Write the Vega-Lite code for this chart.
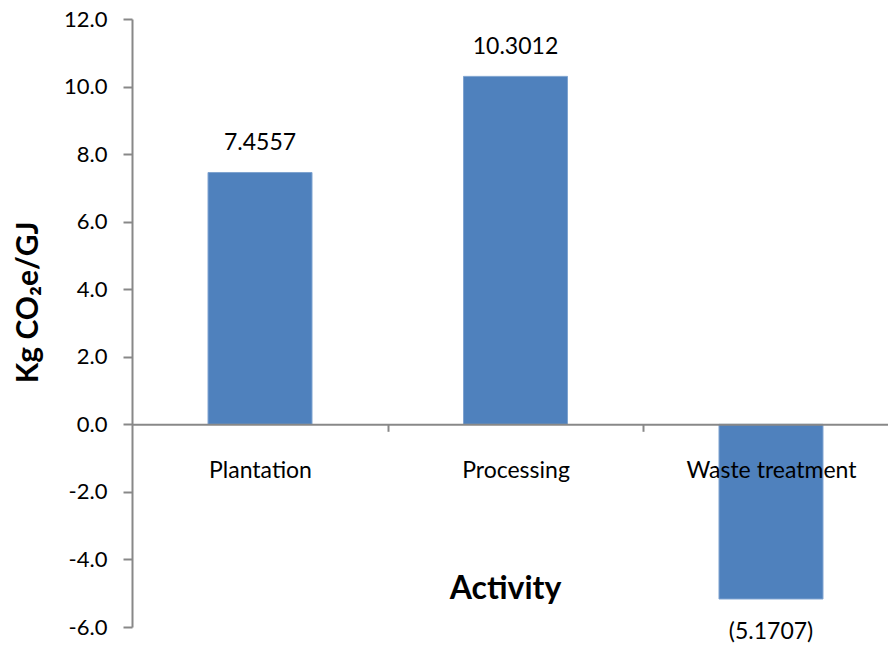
{
  "$schema": "https://vega.github.io/schema/vega-lite/v6.json",
  "autosize": {"type": "none"},
  "padding": {"left": 132, "top": 19, "right": 0, "bottom": 18},
  "width": 756,
  "height": 608,
  "background": "white",
  "config": {"view": {"stroke": null}, "font": "Lato"},
  "data": {"values": [
    {"activity": "Plantation", "value": 7.4557, "label": "7.4557"},
    {"activity": "Processing", "value": 10.3012, "label": "10.3012"},
    {"activity": "Waste treatment", "value": -5.1707, "label": "(5.1707)"}
  ]},
  "encoding": {
    "x": {
      "field": "activity", "type": "nominal", "sort": null,
      "scale": {"paddingInner": 0.593, "paddingOuter": 0.276, "align": 0.539},
      "axis": {
        "title": "Activity", "titleFont": "Lato", "titleFontSize": 32, "titleFontWeight": "bold", "titleColor": "black",
        "titleX": 373, "titleY": 164, "titleAlign": "center", "titleBaseline": "middle", "titleAnchor": null,
        "offset": -202.7, "zindex": 1,
        "labelAngle": 0, "labelFont": "Lato", "labelFontSize": 23, "labelColor": "black", "labelPadding": 28,
        "labelBaseline": "top", "labelOffset": -127.75,
        "domainColor": "#888888", "domainWidth": 2, "tickColor": "#888888", "tickWidth": 2, "tickSize": 7,
        "tickOffset": 127.75, "grid": false
      }
    },
    "y": {
      "field": "value", "type": "quantitative",
      "scale": {"domain": [-6, 12], "nice": false, "zero": false},
      "axis": {
        "values": [-6, -4, -2, 0, 2, 4, 6, 8, 10, 12], "format": ".1f",
        "labelExpr": "replace(datum.label, '−', '-')",
        "title": "Kg CO₂e/GJ", "titleFont": "Lato", "titleFontSize": 30, "titleFontWeight": "bold", "titleColor": "black",
        "titleX": -104, "titleY": 283, "titleAngle": 270, "titleAlign": "center", "titleBaseline": "middle", "titleAnchor": null,
        "labelFont": "Lato", "labelFontSize": 22, "labelColor": "black", "labelPadding": 16,
        "domainColor": "#888888", "domainWidth": 2, "tickColor": "#888888", "tickWidth": 2, "tickSize": 9,
        "grid": false
      }
    }
  },
  "layer": [
    {"mark": {"type": "bar", "color": "#4F81BD", "stroke": "#7FA3D0", "strokeWidth": 1}},
    {
      "transform": [{"filter": "datum.value > 0"}],
      "mark": {"type": "text", "dy": -29, "baseline": "middle", "fontSize": 23, "font": "Lato", "color": "black"},
      "encoding": {"text": {"field": "label"}}
    },
    {
      "transform": [{"filter": "datum.value < 0"}],
      "mark": {"type": "text", "dy": 33, "baseline": "middle", "fontSize": 23, "font": "Lato", "color": "black"},
      "encoding": {"text": {"field": "label"}}
    }
  ]
}
